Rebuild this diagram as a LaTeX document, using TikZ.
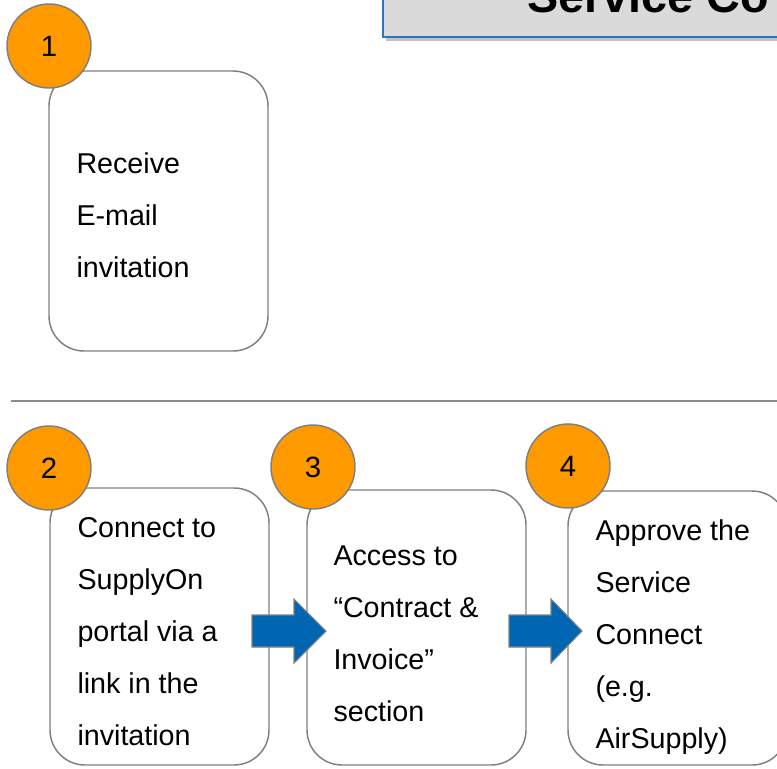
\documentclass[tikz,border=0pt]{standalone}
\usepackage{fontspec}
\setmainfont{Liberation Sans}

\tikzset{every picture/.style={line width=0.75pt}}
\tikzset{
  stepbox/.style={draw={rgb, 255:red, 128; green, 128; blue, 128 }, line width=1.1pt, rounded corners=26.25pt, fill=white},
  numdot/.style={circle, draw={rgb, 255:red, 128; green, 128; blue, 128 }, line width=1.1pt, fill={rgb, 255:red, 255; green, 153; blue, 0 }, minimum size=63pt, inner sep=0pt, font=\fontsize{22}{26}\selectfont},
  steptext/.style={anchor=base west, align=left, inner sep=0pt, font=\fontsize{21.5}{39}\selectfont},
  flowarrow/.style={draw={rgb, 255:red, 128; green, 128; blue, 128 }, line width=0.8pt, fill={rgb, 255:red, 0; green, 102; blue, 178 }, fill opacity=1}
}

\begin{document}
\begin{tikzpicture}[x=0.75pt,y=0.75pt,yscale=-1,xscale=1]
\useasboundingbox (0,0) rectangle (777,768);

%Shape: Title box shadow
\fill [color={rgb, 255:red, 120; green, 120; blue, 120 }, fill opacity=0.45] (386,-10) rectangle (800,40.5);
%Shape: Title box
\draw [draw={rgb, 255:red, 46; green, 117; blue, 182 }, line width=1.2pt, fill={rgb, 255:red, 218; green, 218; blue, 218 }, fill opacity=1] (383,-10) rectangle (800,37);
% Text Node
\node [anchor=base west, inner sep=0pt, font=\fontsize{35}{40}\selectfont\bfseries] (title) at (527,12) {Service Co};

%Shape: Rounded Rect (step 1)
\draw [stepbox] (49,71) rectangle (268,351);
%Shape: Separator
\draw [color={rgb, 255:red, 140; green, 140; blue, 140 }, line width=1.5pt] (11,401) -- (777,401);
%Shape: Rounded Rect (step 2)
\draw [stepbox] (50,488) rectangle (269,765);
%Shape: Rounded Rect (step 3)
\draw [stepbox] (307,490) rectangle (526,765);
%Shape: Rounded Rect (step 4)
\draw [stepbox] (568,491) rectangle (787,765);

%Shape: Right Arrow
\draw [flowarrow] (252,615) -- (294,615) -- (294,599) -- (326,631) -- (294,663) -- (294,647) -- (252,647) -- cycle ;
%Shape: Right Arrow
\draw [flowarrow] (509,615) -- (551,615) -- (551,599) -- (582,631) -- (551,663) -- (551,647) -- (509,647) -- cycle ;

%Shape: Circle
\node [numdot] (num1) at (49,46) {1};
\node [numdot] (num2) at (49,468) {2};
\node [numdot] (num3) at (313,467) {3};
\node [numdot] (num4) at (568,466) {4};

% Text Node (base = last line)
\node [steptext] (txt1) at (76,277) {Receive\\E-mail\\invitation};
% Text Node
\node [steptext] (txt2) at (77,745) {Connect to\\SupplyOn\\portal via a\\link in the\\invitation};
% Text Node
\node [steptext] (txt3) at (333,721) {Access to\\“Contract \&\\Invoice”\\section};
% Text Node
\node [steptext] (txt4) at (595,748) {Approve the\\Service\\Connect\\(e.g.\\AirSupply)};

\end{tikzpicture}
\end{document}
